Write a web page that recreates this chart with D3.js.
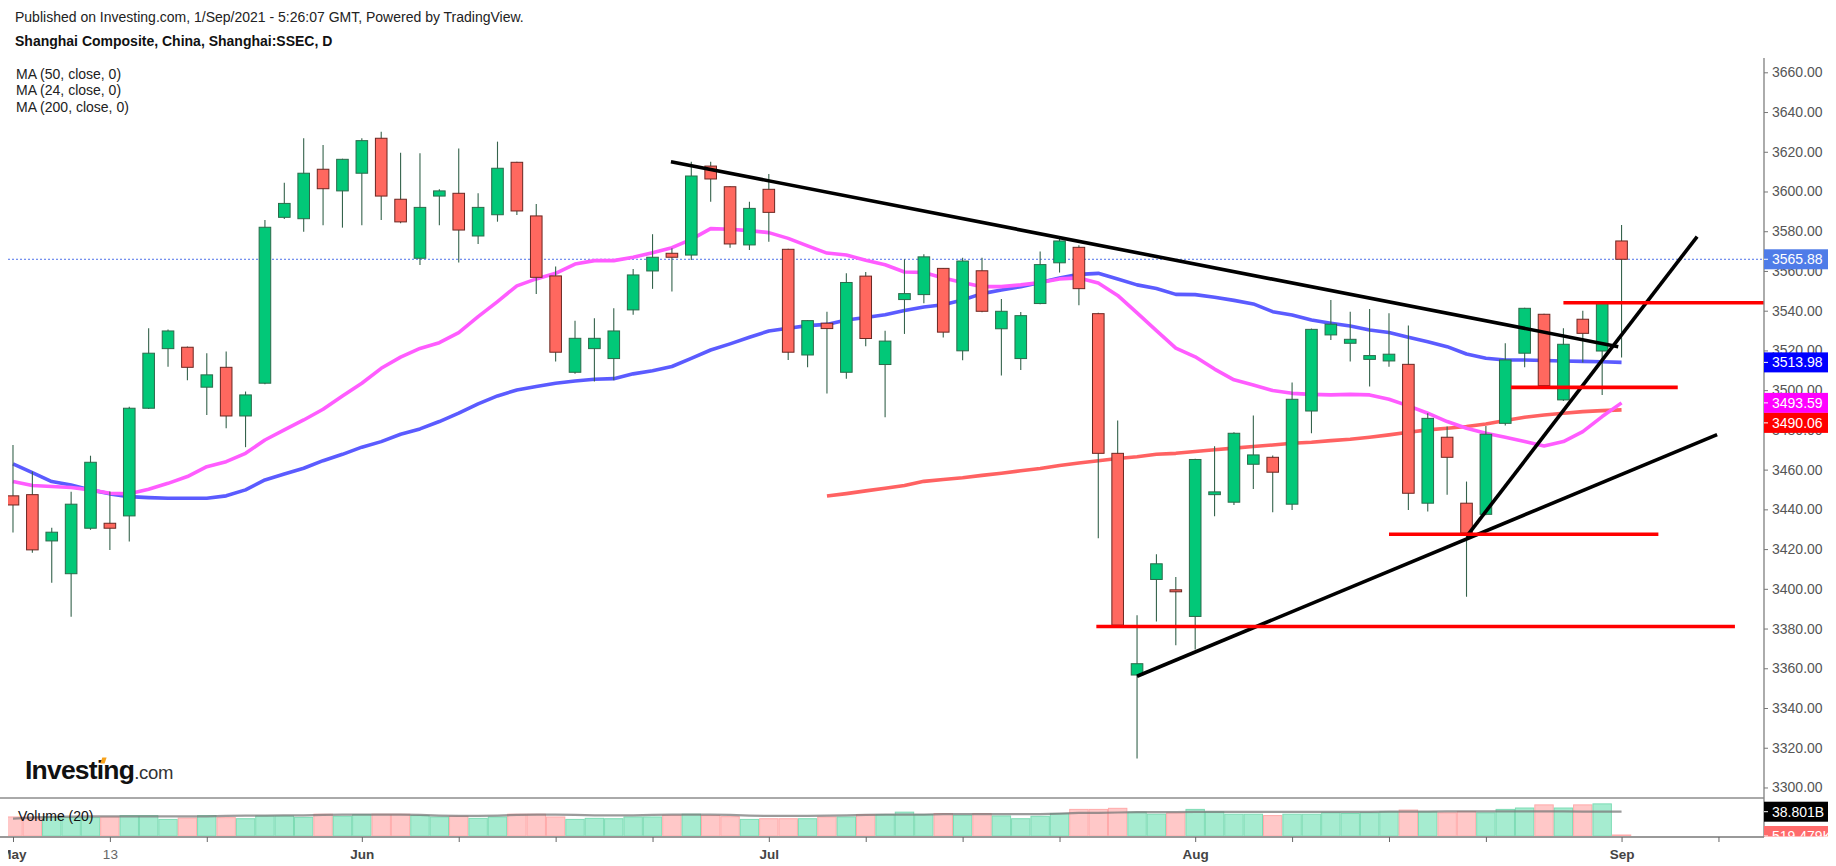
<!DOCTYPE html>
<html><head><meta charset="utf-8">
<script src="https://cdn.jsdelivr.net/npm/d3@7"></script>
<style>
body{margin:0;background:#fff}
svg{display:block}
text{font-family:Arial,"Liberation Sans",sans-serif}
</style>
</head><body>
<svg id="chart" width="1836" height="866"></svg>
<script>
// ---------------- DATA ----------------
const dates = [
"2021-05-06","2021-05-07","2021-05-10","2021-05-11","2021-05-12","2021-05-13","2021-05-14","2021-05-17","2021-05-18","2021-05-19",
"2021-05-20","2021-05-21","2021-05-24","2021-05-25","2021-05-26","2021-05-27","2021-05-28","2021-05-31","2021-06-01","2021-06-02",
"2021-06-03","2021-06-04","2021-06-07","2021-06-08","2021-06-09","2021-06-10","2021-06-11","2021-06-15","2021-06-16","2021-06-17",
"2021-06-18","2021-06-21","2021-06-22","2021-06-23","2021-06-24","2021-06-25","2021-06-28","2021-06-29","2021-06-30","2021-07-01",
"2021-07-02","2021-07-05","2021-07-06","2021-07-07","2021-07-08","2021-07-09","2021-07-12","2021-07-13","2021-07-14","2021-07-15",
"2021-07-16","2021-07-19","2021-07-20","2021-07-21","2021-07-22","2021-07-23","2021-07-26","2021-07-27","2021-07-28","2021-07-29",
"2021-07-30","2021-08-02","2021-08-03","2021-08-04","2021-08-05","2021-08-06","2021-08-09","2021-08-10","2021-08-11","2021-08-12",
"2021-08-13","2021-08-16","2021-08-17","2021-08-18","2021-08-19","2021-08-20","2021-08-23","2021-08-24","2021-08-25","2021-08-26",
"2021-08-27","2021-08-30","2021-08-31","2021-09-01"];

const openP = [
3446.8,3447.4,3424.1,3407.6,3430.5,3433.0,3436.7,3490.9,3520.9,3521.6,
3501.5,3511.5,3487.0,3503.5,3587.0,3586.3,3611.2,3600.3,3609.2,3626.8,
3596.1,3566.4,3597.7,3599.1,3577.6,3588.3,3614.7,3587.7,3557.5,3509.0,
3520.9,3515.9,3540.4,3560.0,3568.9,3568.0,3612.8,3602.4,3573.1,3601.1,
3570.9,3517.7,3533.7,3509.0,3557.4,3512.9,3545.6,3548.1,3561.3,3519.8,
3560.1,3530.9,3515.9,3543.6,3564.1,3571.9,3538.5,3468.2,3356.6,3404.7,
3399.5,3386.1,3447.4,3443.6,3462.7,3466.2,3442.6,3489.5,3527.8,3523.6,
3515.5,3514.7,3513.0,3443.1,3476.3,3443.1,3437.5,3483.3,3518.6,3538.2,
3495.1,3535.7,3519.7,3575.1];
const highP = [
3472.4,3459.0,3430.8,3448.9,3467.0,3449.0,3491.7,3531.2,3530.5,3522.0,
3518.6,3519.4,3499.3,3585.7,3604.4,3626.8,3623.4,3616.5,3626.8,3630.1,
3619.5,3619.2,3601.1,3621.7,3599.1,3625.1,3615.0,3593.7,3562.2,3535.0,
3536.2,3541.2,3561.0,3578.5,3571.4,3615.0,3615.0,3602.6,3594.9,3608.8,
3571.2,3535.2,3539.5,3558.8,3559.5,3529.9,3565.9,3568.4,3561.5,3566.6,
3566.6,3545.9,3539.4,3569.8,3576.8,3573.0,3539.0,3484.7,3386.7,3417.4,
3405.9,3465.5,3471.8,3478.8,3487.2,3467.1,3503.8,3531.0,3545.4,3539.5,
3540.9,3538.7,3532.5,3488.4,3481.7,3454.0,3482.0,3523.6,3541.5,3538.5,
3531.2,3540.0,3544.5,3583.1];
const lowP = [
3428.3,3418.2,3403.0,3386.0,3429.7,3419.6,3423.8,3490.5,3511.8,3505.0,
3487.5,3480.8,3471.3,3503.0,3586.2,3579.8,3583.0,3581.8,3583.0,3585.7,
3584.0,3563.0,3583.0,3564.2,3573.6,3584.8,3588.2,3548.4,3514.4,3508.2,
3504.3,3505.0,3537.9,3551.0,3549.6,3565.5,3594.9,3571.7,3570.6,3574.7,
3515.2,3511.5,3498.3,3505.8,3522.1,3486.3,3528.3,3543.8,3526.5,3515.0,
3539.2,3507.4,3510.1,3543.2,3559.2,3542.8,3425.5,3381.0,3314.6,3383.5,
3371.6,3369.4,3436.5,3442.2,3450.3,3438.5,3439.7,3478.3,3525.3,3514.4,
3501.8,3511.8,3439.7,3438.9,3447.3,3396.0,3437.0,3482.2,3511.5,3500.6,
3494.6,3513.9,3497.6,3516.4];
const closeP = [
3442.2,3419.6,3428.5,3442.6,3463.7,3430.5,3490.9,3518.6,3529.8,3511.5,
3507.7,3487.0,3497.6,3582.0,3594.0,3609.2,3601.4,3616.2,3625.6,3597.7,
3584.7,3592.0,3600.3,3580.6,3592.0,3611.7,3590.2,3556.8,3519.1,3526.1,
3526.1,3529.8,3558.0,3566.9,3566.9,3607.8,3606.3,3573.6,3591.5,3589.5,
3519.1,3535.0,3531.0,3554.2,3526.0,3524.7,3548.6,3567.1,3529.2,3565.0,
3539.7,3539.7,3537.5,3563.2,3575.1,3551.1,3468.2,3381.7,3362.3,3412.6,
3398.5,3465.1,3448.8,3478.3,3467.4,3458.7,3495.4,3530.6,3533.2,3525.6,
3517.4,3518.1,3448.1,3485.8,3466.2,3428.0,3477.8,3515.2,3541.2,3502.3,
3523.1,3528.6,3544.2,3565.88];

const ma50 = [
3462.9,3458.5,3454.0,3452.3,3449.8,3447.8,3446.4,3445.9,3445.6,3445.6,
3445.6,3446.8,3449.8,3454.8,3457.8,3460.7,3464.5,3467.7,3471.3,3474.1,
3477.8,3480.5,3484.2,3488.4,3493.1,3497.1,3500.1,3501.8,3503.5,3504.6,
3505.5,3505.8,3508.2,3509.8,3511.9,3516.0,3520.2,3523.3,3526.6,3529.8,
3531.2,3532.5,3533.1,3535.3,3536.6,3538.0,3540.1,3541.9,3543.0,3545.4,
3548.6,3550.4,3552.1,3554.2,3556.5,3558.3,3558.8,3556.0,3553.0,3551.2,
3548.2,3548.1,3546.8,3545.2,3543.4,3539.5,3537.8,3535.3,3533.7,3532.3,
3530.3,3529.0,3526.6,3524.4,3521.9,3518.2,3516.1,3515.2,3515.2,3514.9,
3514.7,3514.5,3514.3,3513.98];
const ma24 = [
3454.0,3452.0,3451.5,3451.0,3449.8,3448.1,3447.8,3450.1,3453.1,3456.5,
3461.5,3464.0,3468.2,3474.9,3480.0,3485.0,3490.4,3497.1,3503.5,3511.0,
3516.6,3521.0,3523.9,3529.0,3537.0,3544.6,3552.5,3556.0,3558.8,3563.5,
3565.2,3565.2,3566.9,3569.2,3571.7,3575.9,3581.3,3581.0,3580.3,3579.3,
3576.4,3572.6,3569.0,3568.0,3565.4,3563.1,3559.5,3559.2,3556.5,3554.2,
3552.1,3552.1,3553.0,3554.2,3556.0,3556.5,3553.9,3547.7,3538.9,3530.0,
3521.2,3516.8,3510.6,3505.2,3502.6,3499.8,3498.4,3497.9,3497.6,3497.9,
3497.6,3495.4,3492.1,3488.4,3484.2,3480.8,3478.3,3476.3,3474.1,3471.9,
3474.1,3479.1,3486.7,3493.59];
const ma200 = [
null,null,null,null,null,null,null,null,null,null,
null,null,null,null,null,null,null,null,null,null,
null,null,null,null,null,null,null,null,null,null,
null,null,null,null,null,null,null,null,null,null,
null,null,3446.7,3447.9,3449.3,3450.6,3452.0,3454.1,3455.0,3455.9,
3457.1,3458.2,3459.4,3460.6,3462.1,3463.3,3464.5,3465.6,3466.5,3467.7,
3468.2,3469.1,3470.0,3470.8,3471.6,3472.4,3473.3,3473.8,3474.6,3475.3,
3476.3,3477.5,3478.8,3480.0,3480.8,3481.7,3483.0,3484.7,3486.4,3487.5,
3488.4,3489.2,3489.7,3490.06];

// volume in billions
const volume = [
30.4,30.4,30.4,29.3,29.3,30.4,32.6,32.6,26.5,28.7,
32.6,29.3,27.6,32.0,32.0,29.8,34.8,31.5,34.2,34.8,
34.8,32.6,30.4,31.5,28.2,30.4,34.8,34.8,30.4,26.5,
28.2,27.6,30.4,30.4,33.1,34.8,32.6,30.9,26.5,27.6,
27.6,27.6,30.4,30.4,34.2,34.2,38.1,34.2,35.9,33.1,
35.9,32.0,27.6,31.5,35.9,42.5,42.5,44.2,38.1,34.8,
37.0,42.5,38.6,34.8,34.8,32.6,34.8,34.8,37.0,35.9,
37.0,38.6,41.4,38.6,37.0,39.2,37.0,42.5,44.7,49.7,
44.7,49.7,51.3,0.000519479];
const volumeMA = [
27.6,29.3,30.4,30.9,31.5,31.5,31.5,31.5,31.5,31.5,
31.5,32.0,32.6,32.6,33.1,33.1,33.7,34.2,34.2,34.2,
34.2,33.7,32.6,32.0,32.0,32.6,33.7,34.2,34.2,33.7,
33.1,33.1,33.1,33.7,34.2,34.2,34.2,33.7,32.6,32.0,
32.0,32.0,32.6,33.1,33.7,34.2,34.2,34.2,34.8,34.8,
34.8,34.8,34.8,34.8,35.9,37.0,37.0,37.5,38.1,38.1,
38.1,38.6,38.6,38.6,38.6,38.6,38.6,38.6,38.6,38.6,
38.6,39.0,39.0,39.0,39.2,39.2,39.2,39.4,39.4,39.4,
39.2,39.0,38.9,38.801];

const priceTicks = [3300,3320,3340,3360,3380,3400,3420,3440,3460,3480,3500,3520,3540,3560,3580,3600,3620,3640,3660];
const dateTickIdx = [0,5,10,18,23,28,33,39,44,49,54,61,66,71,76,83,88];
const dateTickLabels = ["May","13","","Jun","","","","Jul","","","","Aug","","","","Sep",""];

// user drawings (bar index, price)
const trendLines = [
  {i1:33.95, p1:3615.0, i2:82.83, p2:3521.9},
  {i1:75.0,  p1:3426.3, i2:86.9,  p2:3577.3},
  {i1:58.0,  p1:3356.0, i2:87.93, p2:3477.6}
];
const levels = [
  {p:3381.0, i1:55.9, i2:88.85},
  {p:3427.5, i1:71.0, i2:84.9},
  {p:3501.4, i1:77.3, i2:85.9},
  {p:3544.0, i1:80.0, i2:90.35}
];
const lastPrice = 3565.88;
const headerLines = ["Published on Investing.com, 1/Sep/2021 - 5:26:07 GMT, Powered by TradingView.",
                     "Shanghai Composite, China, Shanghai:SSEC, D"];
const legendLines = ["MA (50, close, 0)","MA (24, close, 0)","MA (200, close, 0)"];

// ---------------- CHART ----------------
const W = 1836, H = 866;
const plotL = 8, axisX = 1764, paneTop = 58, paneBot = 798, volBot = 836, timeAxisY = 837;
const svg = d3.select("#chart");
svg.append("rect").attr("width",W).attr("height",H).attr("fill","#fff");

const n = dates.length;
const idx = d3.range(n);
const x = d3.scaleLinear().domain([-0.67, 90.35]).range([0, axisX]);
const y = d3.scaleLinear().domain([3294.7, 3667.2]).range([paneBot, paneTop]);
const yv = d3.scaleLinear().domain([0, 60.7]).range([volBot, paneBot]);

const defs = svg.append("defs");
defs.append("clipPath").attr("id","pclip").append("rect")
  .attr("x",plotL).attr("y",paneTop-20).attr("width",axisX-plotL).attr("height",paneBot-paneTop+20);
defs.append("clipPath").attr("id","vclip").append("rect")
  .attr("x",plotL).attr("y",paneBot).attr("width",axisX-plotL).attr("height",volBot-paneBot);
defs.append("clipPath").attr("id","tclip").append("rect")
  .attr("x",plotL).attr("y",timeAxisY).attr("width",axisX-plotL).attr("height",H-timeAxisY);
defs.append("clipPath").attr("id","lclip").append("rect")
  .attr("x",axisX).attr("y",0).attr("width",W-axisX).attr("height",timeAxisY-0.5);

// header
svg.append("text").attr("x",15).attr("y",21.5).attr("font-size",14).attr("fill","#222").text(headerLines[0]);
svg.append("text").attr("x",15).attr("y",46).attr("font-size",14).attr("font-weight","bold").attr("fill","#111").text(headerLines[1]);
legendLines.forEach((t,k)=>{
  svg.append("text").attr("x",16).attr("y",78.5+k*16.6).attr("font-size",14).attr("fill","#222").text(t);
});

// price pane
const pg = svg.append("g").attr("clip-path","url(#pclip)");
pg.append("line").attr("x1",plotL).attr("x2",axisX).attr("y1",y(lastPrice)).attr("y2",y(lastPrice))
  .attr("stroke","#4d72ea").attr("stroke-width",1).attr("stroke-dasharray","2,2");

const maLine = arr => d3.line().defined(i=>arr[i]!=null).x(i=>x(i)).y(i=>y(arr[i]))(idx);
pg.append("path").attr("d",maLine(ma200)).attr("fill","none").attr("stroke","#ff6262").attr("stroke-width",3.6).attr("stroke-linejoin","round");
pg.append("path").attr("d",maLine(ma50)).attr("fill","none").attr("stroke","#5b5bff").attr("stroke-width",3.6).attr("stroke-linejoin","round");
pg.append("path").attr("d",maLine(ma24)).attr("fill","none").attr("stroke","#ff5cff").attr("stroke-width",3.6).attr("stroke-linejoin","round");

const up = i => closeP[i] >= openP[i];
const cg = pg.append("g");
cg.selectAll("line.wick").data(idx).join("line").attr("class","wick")
  .attr("x1",i=>x(i)).attr("x2",i=>x(i)).attr("y1",i=>y(highP[i])).attr("y2",i=>y(lowP[i]))
  .attr("stroke","#35634c").attr("stroke-width",1.1);
cg.selectAll("rect.body").data(idx).join("rect").attr("class","body")
  .attr("x",i=>x(i)-5.8).attr("width",11.6)
  .attr("y",i=>y(Math.max(openP[i],closeP[i])))
  .attr("height",i=>Math.max(1.2, Math.abs(y(openP[i])-y(closeP[i]))))
  .attr("fill",i=>up(i)?"#02c878":"#ff685f")
  .attr("stroke",i=>up(i)?"#2c6a4b":"#6b2722").attr("stroke-width",1);

// drawings
const dg = svg.append("g").attr("clip-path","url(#pclip)");
trendLines.forEach(t=>{
  dg.append("line").attr("x1",x(t.i1)).attr("y1",y(t.p1)).attr("x2",x(t.i2)).attr("y2",y(t.p2))
    .attr("stroke","#000").attr("stroke-width",3.6);
});
levels.forEach(l=>{
  dg.append("line").attr("x1",x(l.i1)).attr("x2",x(l.i2)).attr("y1",y(l.p)).attr("y2",y(l.p))
    .attr("stroke","#ff0000").attr("stroke-width",3.6);
});

// logo
const logo = svg.append("text").attr("x",25).attr("y",779);
logo.append("tspan").attr("font-size",26.5).attr("font-weight","bold").attr("fill","#111").attr("letter-spacing","-0.8").text("Investing");
logo.append("tspan").attr("font-size",18.5).attr("fill","#333").attr("letter-spacing","-0.3").text(".com");
svg.append("path").attr("d","M100.3,763.5 L102.3,757.6 L106.6,757.6 L104.6,763.5 Z").attr("fill","#f7a21b");

// volume pane
const vg = svg.append("g").attr("clip-path","url(#vclip)");
vg.selectAll("rect").data(idx).join("rect")
  .attr("x",i=>x(i)-9.2).attr("width",18.4)
  .attr("y",i=>Math.min(yv(volume[i]), volBot-1))
  .attr("height",i=>Math.max(1, volBot-yv(volume[i])))
  .attr("fill",i=>up(i)?"#a6ecd0":"#ffc8c8")
  .attr("stroke",i=>up(i)?"#7edcb5":"#ffaaaa").attr("stroke-width",1);
vg.append("path").attr("d",d3.line().x(i=>x(i)).y(i=>yv(volumeMA[i]))(idx))
  .attr("fill","none").attr("stroke","#7a7a7a").attr("stroke-opacity",0.75).attr("stroke-width",2.2);
svg.append("text").attr("x",18).attr("y",820.5).attr("font-size",14).attr("fill","#111").text("Volume (20)");

// frame lines
svg.append("line").attr("x1",0).attr("x2",axisX).attr("y1",paneBot).attr("y2",paneBot).attr("stroke","#555").attr("stroke-width",1);
svg.append("line").attr("x1",0).attr("x2",axisX).attr("y1",timeAxisY).attr("y2",timeAxisY).attr("stroke","#777").attr("stroke-width",1.6);
svg.append("line").attr("x1",axisX).attr("x2",axisX).attr("y1",paneTop).attr("y2",timeAxisY).attr("stroke","#888").attr("stroke-width",1.4);

// price axis
const ya = svg.append("g").attr("transform",`translate(${axisX},0)`)
  .call(d3.axisRight(y).tickValues(priceTicks).tickFormat(d3.format(".2f")).tickSize(4).tickPadding(4));
ya.select(".domain").remove();
ya.selectAll("line").attr("stroke","#777");
ya.selectAll("text").attr("font-size",14).attr("fill","#555").attr("font-family","Arial, 'Liberation Sans', sans-serif");

// time axis (clip applied on an untransformed wrapper)
const xwrap = svg.append("g").attr("clip-path","url(#tclip)");
const xa = xwrap.append("g").attr("transform",`translate(0,${timeAxisY})`)
  .call(d3.axisBottom(x).tickValues(dateTickIdx).tickFormat((d,k)=>dateTickLabels[k]).tickSize(5).tickPadding(7));
xa.select(".domain").remove();
xa.selectAll("line").attr("stroke","#666");
xa.selectAll("text").attr("font-size",13.5).attr("font-family","Arial, 'Liberation Sans', sans-serif")
  .attr("fill",(d,k)=>/^[A-Z]/.test(dateTickLabels[k])?"#444":"#666")
  .attr("font-weight",(d,k)=>/^[A-Z]/.test(dateTickLabels[k])?"bold":"normal");

// price labels on axis (drawn over the tick labels, which peek out as in the original)
const priceLabels = [
  {v:lastPrice, text:"3565.88", bg:"#4f7ce8"},
  {v:ma50[n-1], text:"3513.98", bg:"#0000ff"},
  {v:ma24[n-1], text:"3493.59", bg:"#ff00ff"},
  {v:ma200[n-1], text:"3490.06", bg:"#ff0000"}
].map(d=>({...d, cy:y(d.v)})).sort((a,b)=>a.cy-b.cy);
const LH = 20;
for (let k=1;k<priceLabels.length;k++){
  if (priceLabels[k].cy < priceLabels[k-1].cy + LH) priceLabels[k].cy = priceLabels[k-1].cy + LH;
}
const lg = svg.append("g").attr("clip-path","url(#lclip)");
const volLabels = [
  {cy:yv(volumeMA[n-1]), text:"38.801B", bg:"#000"},
  {cy:yv(volume[n-1]), text:"519.479K", bg:"#ff6b6b"}
];
for (let k=1;k<volLabels.length;k++){
  if (volLabels[k].cy < volLabels[k-1].cy + LH) volLabels[k].cy = volLabels[k-1].cy + LH;
}
priceLabels.concat(volLabels).forEach(d=>{
  lg.append("rect").attr("x",axisX).attr("y",d.cy-LH/2).attr("width",64).attr("height",LH).attr("fill",d.bg);
  lg.append("line").attr("x1",axisX).attr("x2",axisX+4).attr("y1",d.cy).attr("y2",d.cy).attr("stroke","#fff");
  lg.append("text").attr("x",axisX+8).attr("y",d.cy).attr("dy","0.36em").attr("font-size",14).attr("fill","#fff").text(d.text);
});
</script>
</body></html>
